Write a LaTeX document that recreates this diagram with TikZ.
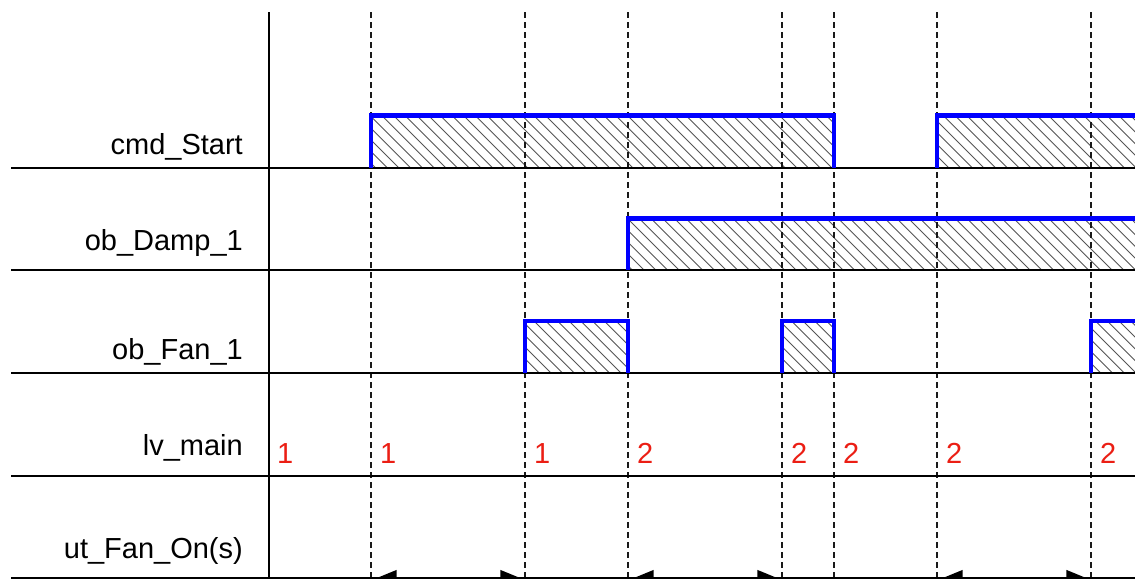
\documentclass[tikz,border=0pt]{standalone}
\usepackage{fontspec}
\setmainfont{Liberation Sans}
\usetikzlibrary{arrows.meta}
\definecolor{sigblue}{RGB}{0,0,255}
\definecolor{numred}{RGB}{235,30,20}
\definecolor{hatchgray}{RGB}{85,85,85}
\begin{document}
\begin{tikzpicture}[x=1pt,y=-1pt,
  lab/.style={anchor=base east,inner sep=0pt,font=\fontsize{29}{31}\selectfont},
  num/.style={anchor=base west,inner sep=0pt,text=numred,font=\fontsize{29}{31}\selectfont},
  rowline/.style={line width=2pt,black},
  axisline/.style={line width=2pt,black},
  tickline/.style={line width=1.1pt,black!90,dash pattern=on 6pt off 4pt},
  sig/.style={line width=4.5pt,sigblue},
  hatchline/.style={line width=0.9pt,hatchgray},
  timer/.style={line width=2pt,{Triangle[right,length=19pt,width=15pt]}-{Triangle[left,length=19pt,width=15pt]},shorten <=4pt,shorten >=3pt}
]
\useasboundingbox (0,0) rectangle (1135,579);

% time marks
\foreach \n/\x in {1/371,2/525,3/628,4/782,5/834,6/937,7/1091}{
  \coordinate (t\n top) at (\x,12);
  \coordinate (t\n bot) at (\x,579);
  \coordinate (t\n arr) at (\x,577.7);
}

% hatching
\begin{scope}
\clip (371,115.7) rectangle (834,167.7) (937,115.7) rectangle (1135,167.7);
\foreach \k in {0,...,75} \draw[hatchline] ({300+\k*11.7},115.7) -- ++(52,52);
\end{scope}
\begin{scope}
\clip (628,218.5) rectangle (1135,270);
\foreach \k in {0,...,75} \draw[hatchline] ({300+\k*11.7},218.5) -- ++(52,52);
\end{scope}
\begin{scope}
\clip (525,321) rectangle (628,373) (782,321) rectangle (834,373) (1091,321) rectangle (1135,373);
\foreach \k in {0,...,75} \draw[hatchline] ({300+\k*11.7},321) -- ++(52,52);
\end{scope}

% dashed time marks
\foreach \n in {1,...,7} \draw[tickline] (t\n top) -- (t\n bot);

% axis and row lines
\coordinate (axtop) at (268.5,12);
\coordinate (axbot) at (268.5,579);
\draw[axisline] (axtop) -- (axbot);
\foreach \n/\y in {1/167.7,2/270,3/373,4/476,5/577.7}{
  \coordinate (r\n w) at (11,\y);
  \coordinate (r\n e) at (1135,\y);
  \draw[rowline] (r\n w) -- (r\n e);
}

% labels
\node[lab] (lcmd) at (243,154) {cmd\_Start};
\node[lab] (ldamp) at (243,250) {ob\_Damp\_1};
\node[lab] (lfan) at (243,359.3) {ob\_Fan\_1};
\node[lab] (llv) at (243,455) {lv\_main};
\node[lab] (lut) at (243,558) {ut\_Fan\_On(s)};

% signals
\draw[sig] (371,167.7) |- (834,115.7) -- (834,167.7);
\draw[sig] (937,167.7) |- (1137,115.7);
\draw[sig] (628,270) |- (1137,218.5);
\draw[sig] (525,373) |- (628,321) -- (628,373);
\draw[sig] (782,373) |- (834,321) -- (834,373);
\draw[sig] (1091,373) |- (1137,321);

% lv_main values
\node[num] (v0) at (277,463) {1};
\node[num] (v1) at (380,463) {1};
\node[num] (v2) at (534,463) {1};
\node[num] (v3) at (637,463) {2};
\node[num] (v4) at (791,463) {2};
\node[num] (v5) at (843,463) {2};
\node[num] (v6) at (946,463) {2};
\node[num] (v7) at (1100,463) {2};

% timers
\draw[timer] (t1arr) -- (t2arr);
\draw[timer] (t3arr) -- (t4arr);
\draw[timer] (t6arr) -- (t7arr);
\end{tikzpicture}
\end{document}
